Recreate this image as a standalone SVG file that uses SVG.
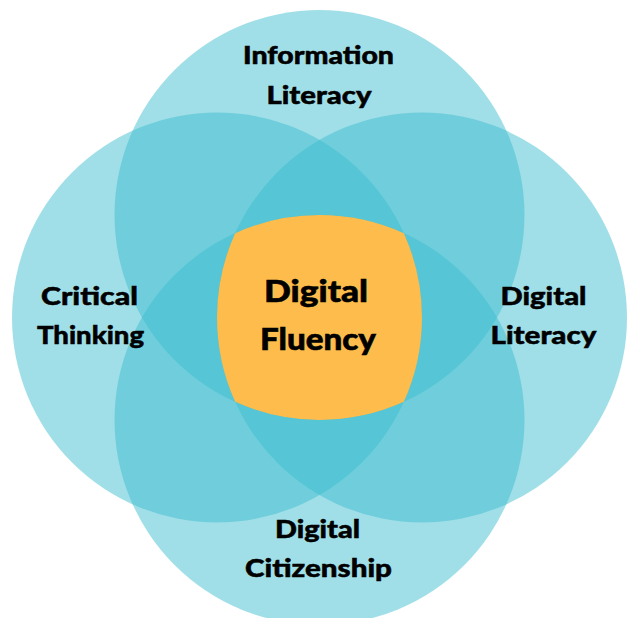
<svg xmlns="http://www.w3.org/2000/svg" width="632" height="618" viewBox="0 0 632 618">
  <style>
    .c { fill: #3BBCCF; fill-opacity: 0.48; }
    .core { fill: #FDBC4B; }
    .t { font-family: "Lato", "Liberation Sans", sans-serif; font-weight: 900; font-size: 25px; fill: #000; stroke: #000; stroke-width: 0.5; text-anchor: middle; }
    .tc { font-size: 31px; stroke-width: 0.6; }
  </style>
  <rect width="632" height="618" fill="#FFFFFF"/>
  <g id="circle-information-literacy"><circle class="c" cx="319.5" cy="215" r="205"/></g>
  <g id="circle-critical-thinking"><circle class="c" cx="217" cy="317.5" r="205"/></g>
  <g id="circle-digital-literacy"><circle class="c" cx="422" cy="317.5" r="205"/></g>
  <g id="circle-digital-citizenship"><circle class="c" cx="319.5" cy="420" r="205"/></g>
  <g id="digital-fluency">
    <path class="core" d="M235.15,233.15 A205,205 0 0 1 403.85,233.15 A205,205 0 0 1 403.85,401.85 A205,205 0 0 1 235.15,401.85 A205,205 0 0 1 235.15,233.15 Z"/>
    <text class="t tc" x="316" y="302" textLength="104" lengthAdjust="spacingAndGlyphs">Digital</text>
    <text class="t tc" x="318" y="350" textLength="116" lengthAdjust="spacingAndGlyphs">Fluency</text>
  </g>
  <g id="label-information-literacy">
    <text class="t" x="318.5" y="64" textLength="151" lengthAdjust="spacingAndGlyphs">Information</text>
    <text class="t" x="319" y="104" textLength="105" lengthAdjust="spacingAndGlyphs">Literacy</text>
  </g>
  <g id="label-critical-thinking">
    <text class="t" x="89.5" y="305" textLength="97" lengthAdjust="spacingAndGlyphs">Critical</text>
    <text class="t" x="90.5" y="344" textLength="107" lengthAdjust="spacingAndGlyphs">Thinking</text>
  </g>
  <g id="label-digital-literacy">
    <text class="t" x="543.5" y="305" textLength="86" lengthAdjust="spacingAndGlyphs">Digital</text>
    <text class="t" x="543.5" y="344" textLength="106" lengthAdjust="spacingAndGlyphs">Literacy</text>
  </g>
  <g id="label-digital-citizenship">
    <text class="t" x="317.5" y="538" textLength="85" lengthAdjust="spacingAndGlyphs">Digital</text>
    <text class="t" x="318.5" y="577" textLength="147" lengthAdjust="spacingAndGlyphs">Citizenship</text>
  </g>
  <g id="connectors"></g>
</svg>
